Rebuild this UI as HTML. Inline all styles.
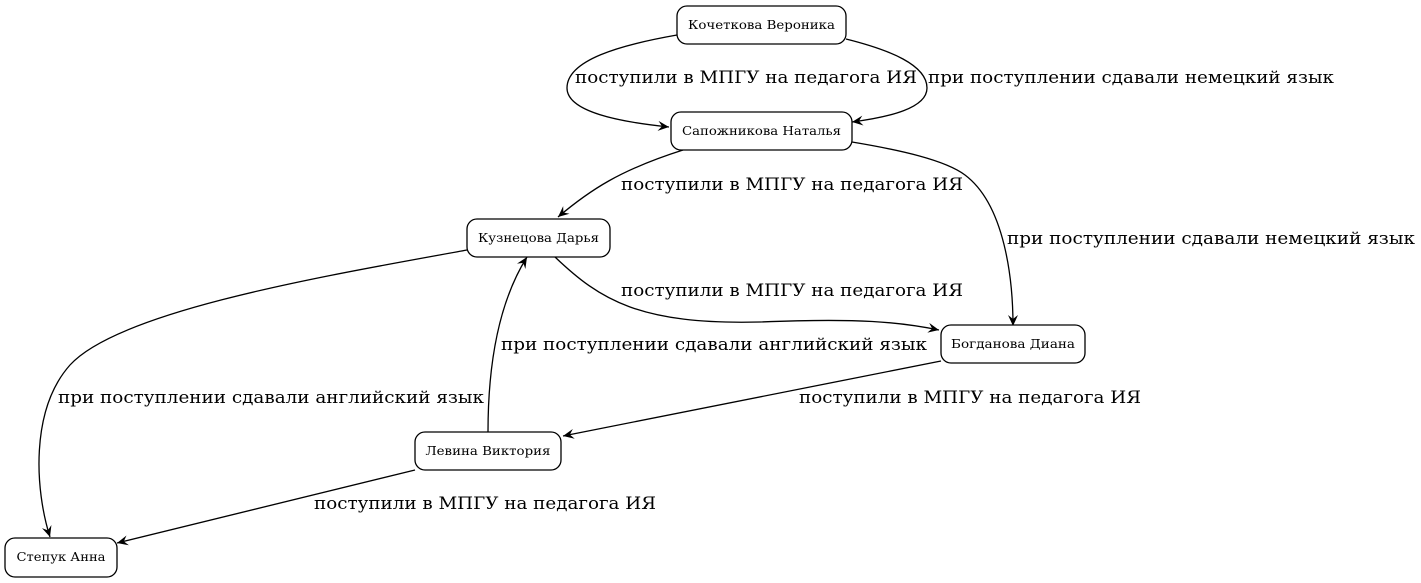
<!DOCTYPE html>
<html><head><meta charset="utf-8"><style>
html,body{margin:0;padding:0;background:#fff;}
svg{display:block;}
.n{fill:#fff;stroke:#000;stroke-width:1.3;}
.nt{font-family:"DejaVu Serif","Liberation Serif",serif;font-size:12.5px;text-anchor:middle;}
.l{font-family:"DejaVu Serif","Liberation Serif",serif;font-size:17px;}
.e{fill:none;stroke:#000;stroke-width:1.3;}
</style></head><body>
<svg width="1421" height="583" viewBox="0 0 1421 583" xmlns="http://www.w3.org/2000/svg">
<defs><marker id="a" markerWidth="12" markerHeight="10" refX="11" refY="5" orient="auto" markerUnits="userSpaceOnUse">
<path d="M0,0 L11,5 L0,10 L4,5 Z" fill="#000"/></marker></defs>
<path class="e" marker-end="url(#a)" d="M677,35 C620,45 567,60 567,88 C567,112 620,122 669,127"/>
<path class="e" marker-end="url(#a)" d="M846,39 C890,50 927,65 927,88 C927,108 890,117 852,122"/>
<path class="e" marker-end="url(#a)" d="M683,150 C620,170 590,190 558,217"/>
<path class="e" marker-end="url(#a)" d="M852,142 C900,150 945,160 965,175 C1005,205 1013,280 1013,326"/>
<path class="e" marker-end="url(#a)" d="M555,257 C600,300 640,325 760,322 C860,318 900,322 939,330"/>
<path class="e" marker-end="url(#a)" d="M467,250 C330,275 120,310 70,365 C30,410 35,490 50,537"/>
<path class="e" marker-end="url(#a)" d="M488,432 C488,360 500,300 527,257"/>
<path class="e" marker-end="url(#a)" d="M941,361 L563,436"/>
<path class="e" marker-end="url(#a)" d="M415,470 L117,543"/>
<text class="l" x="575" y="83" textLength="342" lengthAdjust="spacingAndGlyphs">поступили в МПГУ на педагога ИЯ</text>
<text class="l" x="928" y="83" textLength="406" lengthAdjust="spacingAndGlyphs">при поступлении сдавали немецкий язык</text>
<text class="l" x="621" y="190" textLength="342" lengthAdjust="spacingAndGlyphs">поступили в МПГУ на педагога ИЯ</text>
<text class="l" x="1007" y="244" textLength="408" lengthAdjust="spacingAndGlyphs">при поступлении сдавали немецкий язык</text>
<text class="l" x="621" y="296" textLength="342" lengthAdjust="spacingAndGlyphs">поступили в МПГУ на педагога ИЯ</text>
<text class="l" x="501" y="350" textLength="426" lengthAdjust="spacingAndGlyphs">при поступлении сдавали английский язык</text>
<text class="l" x="58" y="403" textLength="426" lengthAdjust="spacingAndGlyphs">при поступлении сдавали английский язык</text>
<text class="l" x="799" y="403" textLength="342" lengthAdjust="spacingAndGlyphs">поступили в МПГУ на педагога ИЯ</text>
<text class="l" x="314" y="509" textLength="342" lengthAdjust="spacingAndGlyphs">поступили в МПГУ на педагога ИЯ</text>
<rect class="n" x="677" y="6" width="169" height="38" rx="10"/>
<text class="nt" x="761.5" y="29" textLength="147" lengthAdjust="spacingAndGlyphs">Кочеткова Вероника</text>
<rect class="n" x="671" y="112" width="181" height="38" rx="10"/>
<text class="nt" x="761.5" y="135" textLength="159" lengthAdjust="spacingAndGlyphs">Сапожникова Наталья</text>
<rect class="n" x="467" y="219" width="143" height="38" rx="10"/>
<text class="nt" x="538.5" y="242" textLength="121" lengthAdjust="spacingAndGlyphs">Кузнецова Дарья</text>
<rect class="n" x="941" y="325" width="144" height="38" rx="10"/>
<text class="nt" x="1013" y="348" textLength="124" lengthAdjust="spacingAndGlyphs">Богданова Диана</text>
<rect class="n" x="415" y="432" width="146" height="38" rx="10"/>
<text class="nt" x="488" y="455" textLength="125" lengthAdjust="spacingAndGlyphs">Левина Виктория</text>
<rect class="n" x="5" y="538" width="112" height="39" rx="10"/>
<text class="nt" x="61" y="561" textLength="89" lengthAdjust="spacingAndGlyphs">Степук Анна</text>
</svg>
</body></html>
